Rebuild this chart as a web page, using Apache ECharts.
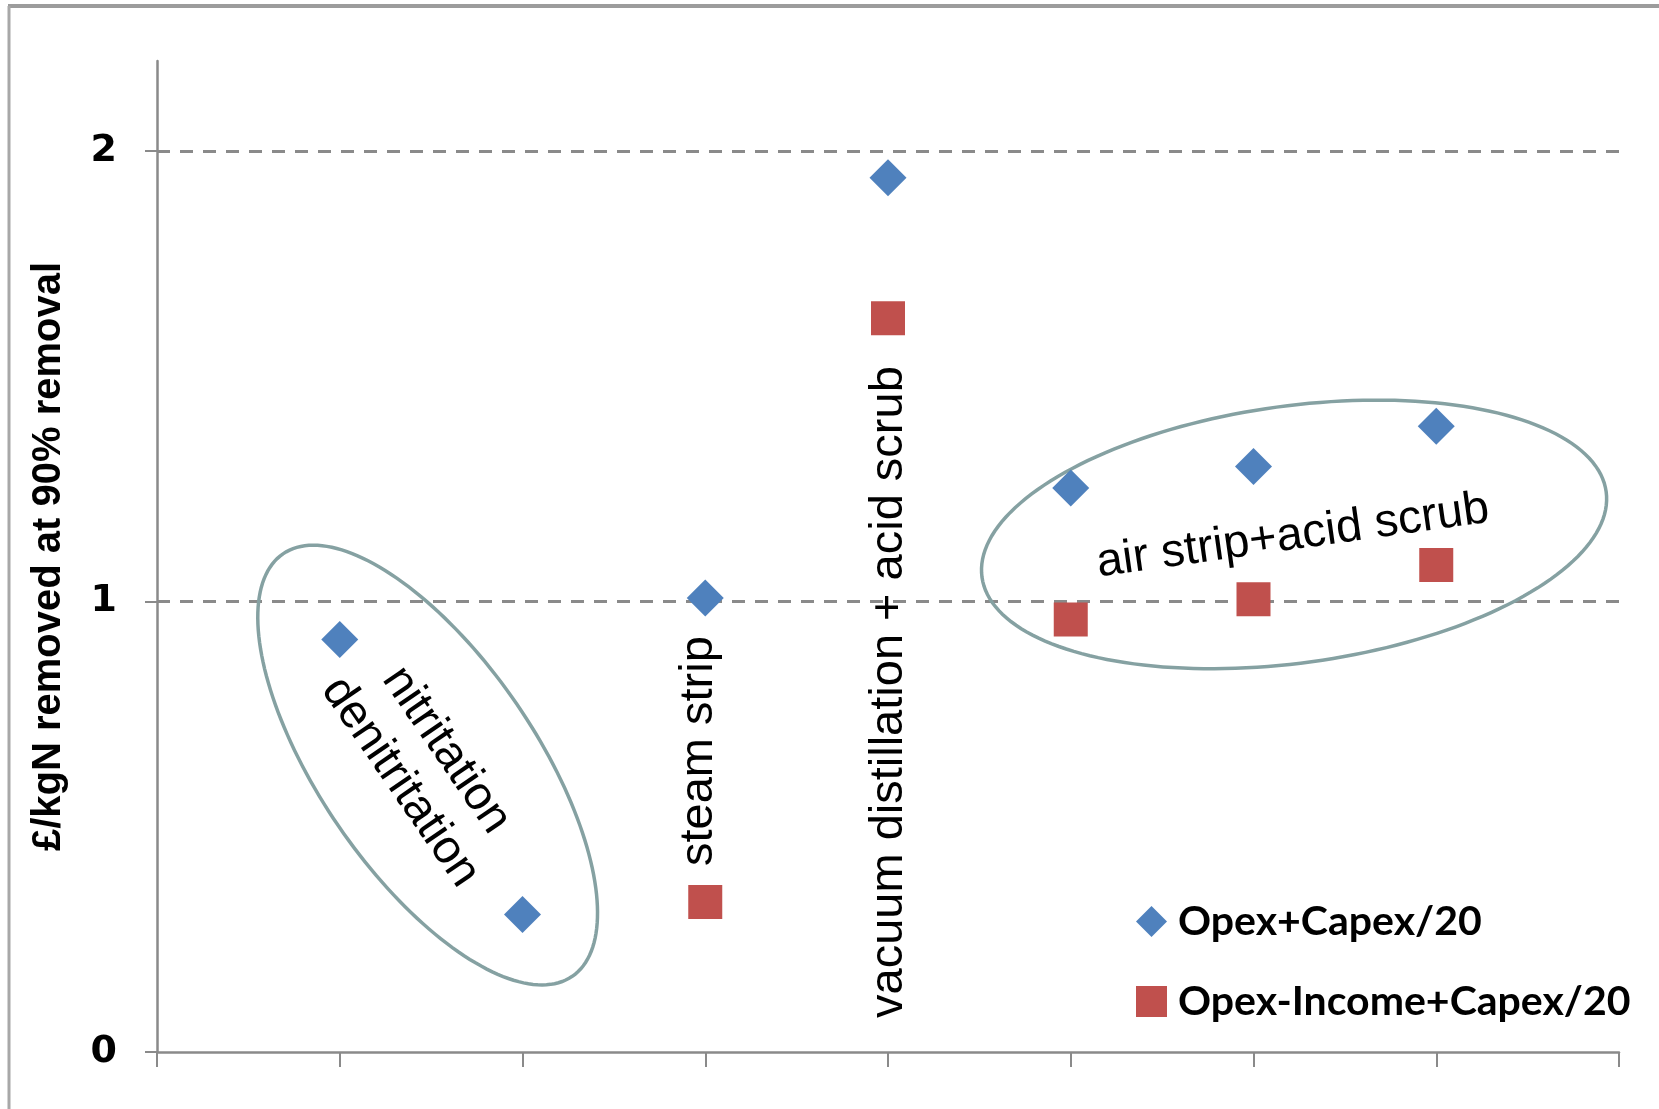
<!DOCTYPE html>
<html>
<head>
<meta charset="utf-8">
<script src="https://cdn.jsdelivr.net/npm/echarts@6/dist/echarts.min.js"></script>
<style>
html,body{margin:0;padding:0;background:#ffffff;}
#chart{width:1659px;height:1109px;}
</style>
</head>
<body>
<div id="chart"></div>
<script>
// ---- data ----
const positions = [1, 2, 3, 4, 5, 6, 7];
const seriesNames = ['Opex+Capex/20', 'Opex-Income+Capex/20'];
const opexCapex = [0.916, 0.305, 1.008, 1.941, 1.252, 1.300, 1.389];
const opexIncomeCapex = [null, null, 0.333, 1.629, 0.960, 1.005, 1.081];
const yTickValues = [0, 1, 2];
const yAxisTitle = '£/kgN removed at 90% removal';

// ---- annotations (in data coordinates) ----
const ellipseCenters = [[1.481, 0.637], [6.222, 1.149]];
const ellipseShapes = [
  { rx: 256, ry: 108, angle: 55.6 },
  { rx: 315, ry: 128.5, angle: -7.8 }
];
const annotationTexts = ['nitritation', 'denitritation', 'steam strip', 'vacuum distillation + acid scrub', 'air strip+acid scrub'];
const annotationAnchors = [[1.583, 0.670], [1.331, 0.599], [2.967, 0.668], [4.007, 0.799], [6.215, 1.145]];
const annotationRotations = [-55.5, -55.5, 90, 90, 8];

const toPairs = (xs, ys) => xs.map((x, i) => [x, ys[i]]).filter(p => p[1] !== null);

const axisGray = '#8a8a8a';
const chart = echarts.init(document.getElementById('chart'), null, { renderer: 'canvas' });

const option = {
  backgroundColor: '#ffffff',
  animation: false,
  grid: { left: 157, right: 40, top: 61, bottom: 57, containLabel: false },
  xAxis: {
    type: 'value', min: 0, max: 8, interval: 1,
    axisLine: { show: true, onZero: false, lineStyle: { color: axisGray, width: 2.5 } },
    axisTick: { show: true, inside: false, length: 15, lineStyle: { color: axisGray, width: 2 } },
    axisLabel: { show: false },
    splitLine: { show: false }
  },
  yAxis: {
    type: 'value', min: 0, max: 2.2, interval: 1,
    name: yAxisTitle, nameLocation: 'middle', nameGap: 88, nameRotate: 90,
    nameTextStyle: { fontFamily: 'Liberation Sans', fontWeight: 'bold', fontSize: 40, color: '#000' },
    axisLine: { show: true, onZero: false, lineStyle: { color: axisGray, width: 2.5 } },
    axisTick: { show: true, inside: false, length: 12, customValues: yTickValues, lineStyle: { color: axisGray, width: 2 } },
    axisLabel: {
      show: true, margin: 40, customValues: yTickValues,
      fontFamily: 'DejaVu Sans', fontWeight: 'bold', fontSize: 38, color: '#000',
      formatter: v => (yTickValues.indexOf(v) >= 0 ? String(v) : '')
    },
    splitLine: { show: true, showMinLine: false, showMaxLine: true, lineStyle: { color: axisGray, width: 3, type: [13, 10] } }
  },
  legend: {
    data: seriesNames,
    orient: 'vertical', left: 1136, top: 901, padding: 0,
    itemWidth: 31, itemHeight: 31, itemGap: 39,
    textStyle: { fontFamily: 'Lato', fontWeight: 'bold', fontSize: 41, color: '#000', padding: [0, 0, 0, 6] }
  },
  graphic: [
    { type: 'line', shape: { x1: 8, y1: 6, x2: 1659, y2: 6 }, style: { stroke: '#9c9c9c', lineWidth: 4 }, silent: true },
    { type: 'line', shape: { x1: 9, y1: 6, x2: 9, y2: 1109 }, style: { stroke: '#a8a8a8', lineWidth: 3 }, silent: true }
  ],
  series: [
    {
      type: 'custom', name: 'ellipses', coordinateSystem: 'cartesian2d', silent: true, z: 1,
      data: ellipseCenters,
      renderItem: function (params, api) {
        const c = api.coord([api.value(0), api.value(1)]);
        const s = ellipseShapes[params.dataIndex];
        const phi = s.angle * Math.PI / 180;
        const pts = [];
        for (let k = 0; k < 180; k++) {
          const t = k / 180 * Math.PI * 2;
          const ex = s.rx * Math.cos(t), ey = s.ry * Math.sin(t);
          pts.push([c[0] + ex * Math.cos(phi) - ey * Math.sin(phi), c[1] + ex * Math.sin(phi) + ey * Math.cos(phi)]);
        }
        return { type: 'polygon', shape: { points: pts }, style: { fill: 'none', stroke: '#85a1a2', lineWidth: 3.5 } };
      }
    },
    {
      type: 'custom', name: 'labels', coordinateSystem: 'cartesian2d', silent: true, z: 3,
      data: annotationAnchors,
      renderItem: function (params, api) {
        const c = api.coord([api.value(0), api.value(1)]);
        const i = params.dataIndex;
        return {
          type: 'text', x: c[0], y: c[1], rotation: annotationRotations[i] * Math.PI / 180,
          style: {
            text: annotationTexts[i], fill: '#000', fontSize: 47, fontFamily: 'Liberation Sans',
            align: 'center', verticalAlign: 'middle', textAlign: 'center', textVerticalAlign: 'middle'
          }
        };
      }
    },
    {
      type: 'scatter', name: seriesNames[0], symbol: 'diamond', symbolSize: 37, z: 2,
      itemStyle: { color: '#4f81bd', opacity: 1 },
      data: toPairs(positions, opexCapex)
    },
    {
      type: 'scatter', name: seriesNames[1], symbol: 'rect', symbolSize: 34, z: 2,
      itemStyle: { color: '#c0504d', opacity: 1 },
      data: toPairs(positions, opexIncomeCapex)
    }
  ]
};
chart.setOption(option);
</script>
</body>
</html>
